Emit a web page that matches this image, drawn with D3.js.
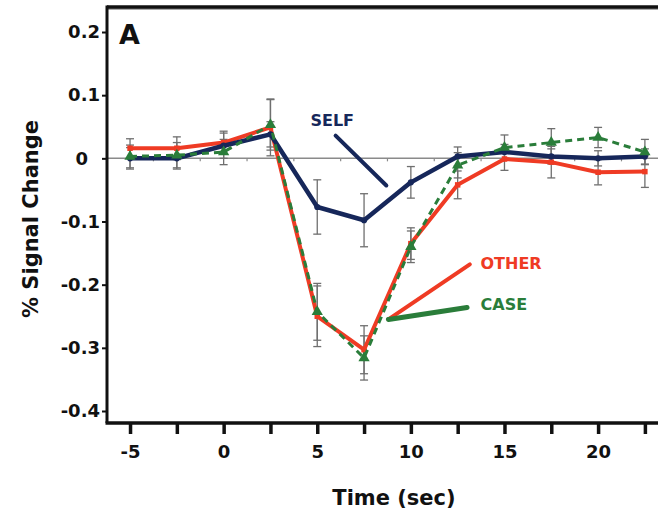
<!DOCTYPE html>
<html>
<head>
<meta charset="utf-8">
<script src="https://cdn.jsdelivr.net/npm/d3@7"></script>
<style>
  body { margin: 0; background: #fff; }
  text { font-family: "DejaVu Sans", Arial, sans-serif; font-weight: bold; }
</style>
</head>
<body>
<div id="chart"></div>
<script>
// Data
const times = [-5, -2.5, 0, 2.5, 5, 7.5, 10, 12.5, 15, 17.5, 20, 22.5];
const selfValues = [0, 0, 0.02, 0.038, -0.077, -0.098, -0.038, 0.003, 0.01, 0.003, 0, 0.003];
const selfErr = [0.017, 0.017, 0.02, 0.02, 0.043, 0.042, 0.025, 0.015, 0.012, 0.012, 0.012, 0.012];
const otherValues = [0.016, 0.016, 0.025, 0.049, -0.25, -0.303, -0.135, -0.042, -0.001, -0.006, -0.022, -0.021];
const otherErr = [0.015, 0.018, 0.018, 0.045, 0.048, 0.038, 0.025, 0.022, 0.018, 0.025, 0.02, 0.025];
const caseValues = [0.003, 0.005, 0.01, 0.053, -0.243, -0.316, -0.14, -0.011, 0.017, 0.025, 0.033, 0.01];
const caseErr = [0.018, 0.02, 0.02, 0.04, 0.045, 0.035, 0.025, 0.02, 0.02, 0.022, 0.016, 0.02];
const yTicks = [0.2, 0.1, 0, -0.1, -0.2, -0.3, -0.4];
const xTicks = [-5, -2.5, 0, 2.5, 5, 7.5, 10, 12.5, 15, 17.5, 20, 22.5];
const xLabelTicks = [-5, 0, 5, 10, 15, 20];

// Dimensions
const width = 658;
const height = 513;
const margin = { top: 7, right: 0, bottom: 90, left: 107 };

const svg = d3
  .select("#chart")
  .append("svg")
  .attr("width", width)
  .attr("height", height);

// Scales
const xScale = d3.scaleLinear().domain([-6.23, 23.2]).range([margin.left, width - margin.right]);
const yScale = d3.scaleLinear().domain([0.2396, -0.419]).range([margin.top, height - margin.bottom]);

const navy = "#16275a";
const red = "#ef3b24";
const green = "#2a7d3a";

// Top border
svg.append("line")
  .attr("x1", margin.left).attr("x2", width)
  .attr("y1", margin.top + 2).attr("y2", margin.top + 2)
  .attr("stroke", "#aaa").attr("stroke-width", 2);
svg.append("line")
  .attr("x1", margin.left).attr("x2", width)
  .attr("y1", margin.top).attr("y2", margin.top)
  .attr("stroke", "#111").attr("stroke-width", 3.5);

// Zero line with small ticks
svg.append("line")
  .attr("x1", margin.left).attr("x2", width)
  .attr("y1", yScale(0)).attr("y2", yScale(0))
  .attr("stroke", "#8a8a8a").attr("stroke-width", 1.5);
const minorTicks = d3.range(-6.25, 23, 2.5);
svg.append("g").selectAll("line")
  .data(minorTicks)
  .join("line")
  .attr("x1", (d) => xScale(d)).attr("x2", (d) => xScale(d))
  .attr("y1", yScale(0)).attr("y2", yScale(0) + 3)
  .attr("stroke", "#8a8a8a").attr("stroke-width", 1.2);

// Axes
const yAxis = d3.axisLeft(yScale)
  .tickValues(yTicks)
  .tickSize(5)
  .tickPadding(2)
  .tickFormat((d) => String(d));
const yG = svg.append("g")
  .attr("transform", `translate(${margin.left},0)`)
  .call(yAxis);
yG.select(".domain").attr("stroke", "#111").attr("stroke-width", 3)
  .attr("d", `M0,${margin.top - 1.5}V${height - margin.bottom}`);
yG.selectAll(".tick line").attr("stroke", "#111").attr("stroke-width", 2);
yG.selectAll(".tick text").attr("font-size", 18).attr("fill", "#111");
// the zero label sits under the decimal points
yG.selectAll(".tick text").filter((d) => d === 0).attr("x", -19);

const xAxis = d3.axisBottom(xScale)
  .tickValues(xTicks)
  .tickSize(11)
  .tickPadding(11)
  .tickFormat((d) => (xLabelTicks.includes(d) ? d : ""));
const xG = svg.append("g")
  .attr("transform", `translate(0,${height - margin.bottom})`)
  .call(xAxis);
xG.select(".domain").attr("stroke", "#111").attr("stroke-width", 3.5)
  .attr("d", `M${margin.left - 1.5},0H${width}`);
xG.selectAll(".tick line").attr("stroke", "#111").attr("stroke-width", 3.5);
xG.selectAll(".tick text").attr("font-size", 18).attr("fill", "#111");

// Axis titles
svg.append("text")
  .attr("x", 394)
  .attr("y", 505)
  .attr("text-anchor", "middle")
  .attr("font-size", 21)
  .attr("fill", "#111")
  .text("Time (sec)");
svg.append("text")
  .attr("transform", `translate(38,${219}) rotate(-90)`)
  .attr("text-anchor", "middle")
  .attr("font-size", 21)
  .attr("fill", "#111")
  .text("% Signal Change");

// Panel label
svg.append("text")
  .attr("x", 119)
  .attr("y", 44)
  .attr("font-size", 27)
  .attr("fill", "#111")
  .text("A");

// Series
const series = [
  { name: "OTHER", values: otherValues, err: otherErr, color: red, width: 4, dash: null, marker: "square" },
  { name: "SELF", values: selfValues, err: selfErr, color: navy, width: 4.5, dash: null, marker: "circle" },
  { name: "CASE", values: caseValues, err: caseErr, color: green, width: 3, dash: "7,5", marker: "triangle" },
];

// Error bars
const errG = svg.append("g");
series.forEach((s) => {
  const pts = times.map((t, i) => ({ t, v: s.values[i], e: s.err[i] }));
  const g = errG.append("g").attr("stroke", "#6f6f6f").attr("stroke-width", 1.3);
  g.selectAll(".bar").data(pts).join("line")
    .attr("x1", (d) => xScale(d.t)).attr("x2", (d) => xScale(d.t))
    .attr("y1", (d) => yScale(d.v + d.e)).attr("y2", (d) => yScale(d.v - d.e));
  g.selectAll(".capTop").data(pts).join("line")
    .attr("x1", (d) => xScale(d.t) - 4).attr("x2", (d) => xScale(d.t) + 4)
    .attr("y1", (d) => yScale(d.v + d.e)).attr("y2", (d) => yScale(d.v + d.e));
  g.selectAll(".capBot").data(pts).join("line")
    .attr("x1", (d) => xScale(d.t) - 4).attr("x2", (d) => xScale(d.t) + 4)
    .attr("y1", (d) => yScale(d.v - d.e)).attr("y2", (d) => yScale(d.v - d.e));
});

// Lines and markers
const line = d3.line().x((d, i) => xScale(times[i])).y((d) => yScale(d));
series.forEach((s) => {
  svg.append("path")
    .datum(s.values)
    .attr("fill", "none")
    .attr("stroke", s.color)
    .attr("stroke-width", s.width)
    .attr("stroke-linejoin", "round")
    .attr("stroke-dasharray", s.dash)
    .attr("d", line);
  const symType = s.marker === "triangle" ? d3.symbolTriangle : s.marker === "square" ? d3.symbolSquare : d3.symbolCircle;
  const symSize = s.marker === "triangle" ? 55 : 30;
  svg.append("g").selectAll("path")
    .data(s.values)
    .join("path")
    .attr("transform", (d, i) => `translate(${xScale(times[i])},${yScale(d)})`)
    .attr("d", d3.symbol().type(symType).size(symSize))
    .attr("fill", s.color);
});

// Annotations (data coordinates)
const annotations = [
  { label: "SELF", color: navy, lx: 5.8, ly: 0.061, from: [5.98, 0.036], to: [8.69, -0.043], w: 4 },
  { label: "OTHER", color: red, lx: 13.72, ly: -0.166, from: [8.8, -0.255], to: [13.15, -0.168], w: 4 },
  { label: "CASE", color: green, lx: 13.72, ly: -0.231, from: [8.8, -0.255], to: [13.0, -0.236], w: 5 },
];
annotations.forEach((a) => {
  svg.append("line")
    .attr("x1", xScale(a.from[0])).attr("y1", yScale(a.from[1]))
    .attr("x2", xScale(a.to[0])).attr("y2", yScale(a.to[1]))
    .attr("stroke", a.color).attr("stroke-width", a.w).attr("stroke-linecap", "round");
  svg.append("text")
    .attr("x", xScale(a.lx)).attr("y", yScale(a.ly))
    .attr("dy", "0.36em")
    .attr("font-size", 16)
    .attr("fill", a.color)
    .attr("text-anchor", a.label === "SELF" ? "middle" : "start")
    .text(a.label);
});
</script>
</body>
</html>
